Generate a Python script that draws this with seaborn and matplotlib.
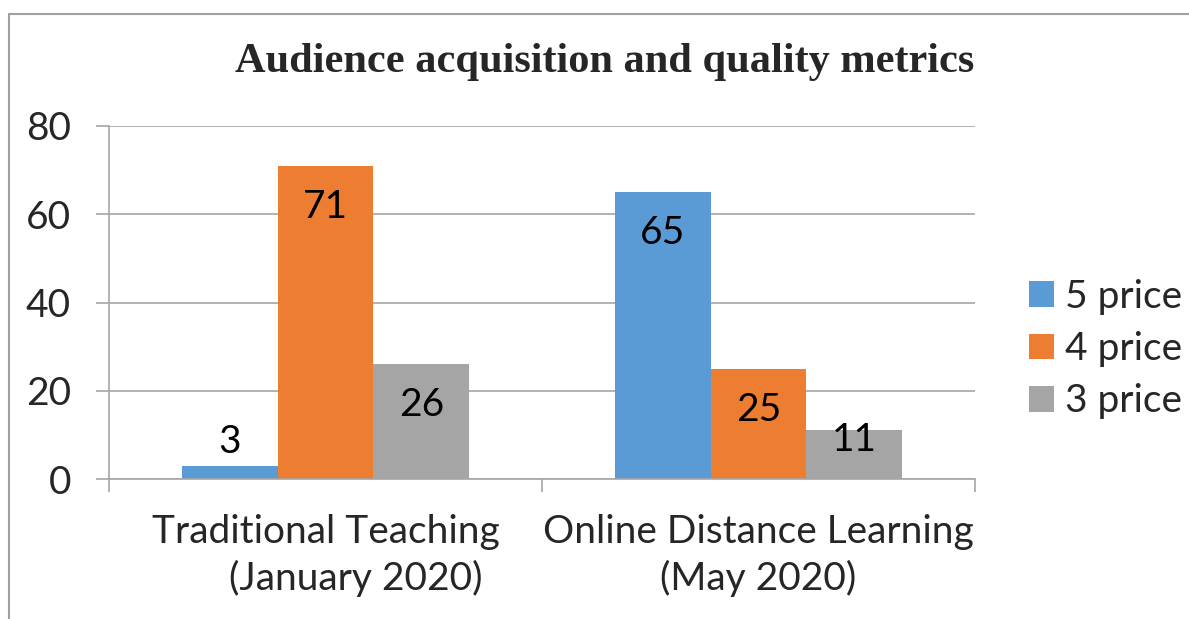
import matplotlib
matplotlib.use("Agg")
import matplotlib.pyplot as plt
from matplotlib.lines import Line2D
import seaborn as sns
import pandas as pd

categories = ["Traditional Teaching\n      (January 2020)", "Online Distance Learning\n(May 2020)"]
series = ["5 price", "4 price", "3 price"]
values_5 = [3, 65]
values_4 = [71, 25]
values_3 = [26, 11]
title = "Audience acquisition and quality metrics"
yticks = [0, 20, 40, 60, 80]

colors = ["#5B9BD5", "#ED7D31", "#A5A5A5"]
GRID = "#A6A6A6"

rows = []
for s, vals in zip(series, [values_5, values_4, values_3]):
    for c, v in zip(categories, vals):
        rows.append({"category": c, "series": s, "value": v})
df = pd.DataFrame(rows)

sns.set_theme(style="white")
plt.rcParams["font.family"] = ["Lato", "DejaVu Sans"]

DPI = 100
fig = plt.figure(figsize=(11.89, 6.19), dpi=DPI)
ax = fig.add_axes([109 / 1189, 1 - 479 / 619, (975 - 109) / 1189, (479 - 126) / 619])

sns.barplot(data=df, x="category", y="value", hue="series", order=categories,
            hue_order=series, palette=colors, width=0.665, saturation=1,
            edgecolor="none", linewidth=0, ax=ax, legend=True)

ax.set_ylim(0, 80)
ax.set_xlim(-0.5, 1.5)
ax.set_yticks(yticks)
ax.set_yticklabels([str(t) for t in yticks])
ax.yaxis.grid(True, color=GRID, linewidth=1.2)
ax.set_axisbelow(True)
ax.set_xlabel("")
ax.set_ylabel("")

for sp in ["top", "right"]:
    ax.spines[sp].set_visible(False)
for sp in ["left", "bottom"]:
    ax.spines[sp].set_color(GRID)
    ax.spines[sp].set_linewidth(1.2)

FS = 28
ax.tick_params(axis="y", which="major", length=9.4, width=1.2, color=GRID,
               pad=18, labelsize=FS, left=True)
ax.set_xticks([0, 1])
ax.set_xticklabels(categories, fontsize=FS, linespacing=1.33)
ax.set_xticks([-0.5, 0.5, 1.5], minor=True)
ax.tick_params(axis="x", which="major", length=0, pad=25, labelsize=FS)
ax.tick_params(axis="x", which="minor", length=9.4, width=1.2, color=GRID, bottom=True)

# data labels
for container in ax.containers:
    for bar in container:
        v = bar.get_height()
        x = bar.get_x() + bar.get_width() / 2
        if v >= 20:
            off = -41
        elif v >= 10:
            off = -10
        else:
            off = 24
        ax.annotate(f"{v:g}", (x, v), xytext=(0, off * 72 / DPI), textcoords="offset points",
                    ha="center", va="center", fontsize=FS, color="black")

leg = ax.legend(loc="center left", bbox_to_anchor=(1.062, 0.368), frameon=False,
                fontsize=FS, handlelength=0.64, handleheight=0.64, handletextpad=0.3,
                labelspacing=0.42, borderaxespad=0, borderpad=0)

fig.text(605 / 1189, 1 - 62 / 619, title, ha="center", va="center",
         fontsize=30.5, fontweight="bold", family=["Liberation Serif", "DejaVu Serif"])

# outer chart border (top and left visible)
fig.add_artist(Line2D([9 / 1189, 1.0], [1 - 14 / 619, 1 - 14 / 619], transform=fig.transFigure,
                      color="#A0A0A0", linewidth=1.5))
fig.add_artist(Line2D([9 / 1189, 9 / 1189], [0.0, 1 - 14 / 619], transform=fig.transFigure,
                      color="#A0A0A0", linewidth=1.5))

fig.savefig("out.png", dpi=DPI, facecolor="white")
